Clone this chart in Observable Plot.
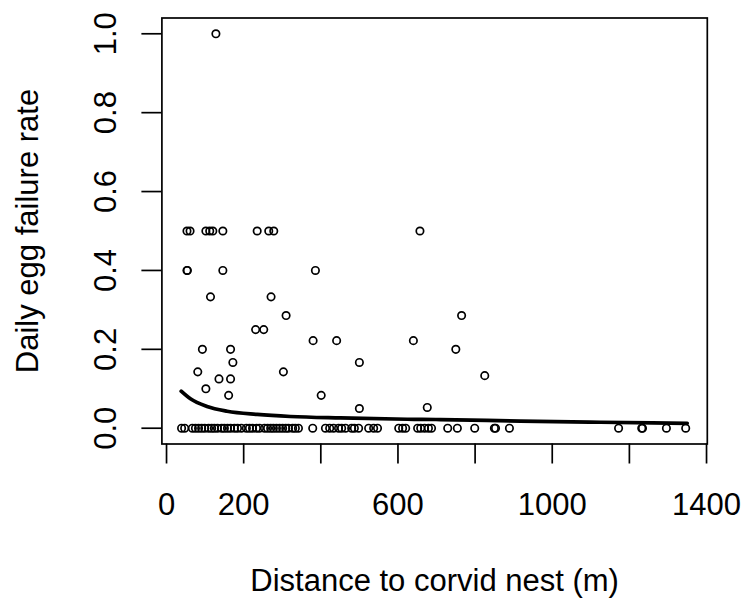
<!DOCTYPE html>
<html><head><meta charset="utf-8">
<script src="https://cdn.jsdelivr.net/npm/d3@7"></script>
<script src="https://cdn.jsdelivr.net/npm/@observablehq/plot@0.6"></script>
<style>body{margin:0;background:#fff;} svg{font-family:"Liberation Sans",Arial,sans-serif;}</style>
</head><body><div id="chart"></div>
<script>
// Observed nests: distance to corvid nest (m) and daily egg failure rate
const distance = [
  128,
  53, 61, 102, 112, 120, 146, 235, 265, 278, 657,
  53, 54, 146, 386,
  114, 271,
  310, 765,
  231, 252,
  380, 441, 640,
  93, 166, 750,
  172, 500,
  81, 303,
  136, 166, 825,
  102,
  161, 401,
  500, 676,
  39, 47, 67, 75, 83, 91, 99, 109, 117, 124, 132, 143, 150, 158, 166, 176, 184, 194,
  207, 215, 223, 233, 241, 254, 262, 270, 277, 285, 293, 301, 309, 316, 327, 334, 342,
  379, 412, 423, 433, 446, 454, 464, 480, 487, 498, 524, 537, 547, 602, 612, 620,
  651, 659, 669, 679, 687, 729, 754, 799, 850, 853, 889, 1172, 1232, 1234, 1296, 1346
];
const rate = [
  1.0,
  0.5, 0.5, 0.5, 0.5, 0.5, 0.5, 0.5, 0.5, 0.5, 0.5,
  0.4, 0.4, 0.4, 0.4,
  0.333, 0.333,
  0.2857, 0.2857,
  0.25, 0.25,
  0.222, 0.222, 0.222,
  0.2, 0.2, 0.2,
  0.1667, 0.1667,
  0.1429, 0.1429,
  0.125, 0.125, 0.1333,
  0.1,
  0.0833, 0.0833,
  0.05, 0.0526,
  0, 0, 0, 0, 0, 0, 0, 0, 0, 0, 0, 0, 0, 0, 0, 0, 0, 0,
  0, 0, 0, 0, 0, 0, 0, 0, 0, 0, 0, 0, 0, 0, 0, 0, 0,
  0, 0, 0, 0, 0, 0, 0, 0, 0, 0, 0, 0, 0, 0, 0, 0,
  0, 0, 0, 0, 0, 0, 0, 0, 0, 0, 0, 0, 0, 0, 0, 0
];
// Fitted curve
const curveDist = [38, 62, 105, 157, 235, 321, 451, 624, 710, 918, 1125, 1350];
const curveRate = [0.094, 0.0745, 0.055, 0.043, 0.035, 0.0297, 0.026, 0.0228, 0.022, 0.018, 0.0152, 0.0125];

const xTicks = [0, 200, 400, 600, 800, 1000, 1200, 1400];
const xTickLabels = ["0", "200", "", "600", "", "1000", "", "1400"];
const yTicks = [0, 0.2, 0.4, 0.6, 0.8, 1.0];
const yTickLabels = ["0.0", "0.2", "0.4", "0.6", "0.8", "1.0"];
const xTitle = "Distance to corvid nest (m)";
const yTitle = "Daily egg failure rate";

const points = distance.map((d, i) => ({distance: d, rate: rate[i]}));
const curve = curveDist.map((d, i) => ({distance: d, rate: curveRate[i]}));
const xLab = new Map(xTicks.map((t, i) => [t, xTickLabels[i]]));
const yLab = new Map(yTicks.map((t, i) => [t, yTickLabels[i]]));

const FS = 31;
const chart = Plot.plot({
  width: 750, height: 600,
  marginLeft: 161.4, marginRight: 43.2, marginTop: 17.5, marginBottom: 156.5,
  style: {fontFamily: "Liberation Sans, Arial, sans-serif", fontSize: FS + "px", background: "#fff", color: "black"},
  x: {domain: [-12, 1402]},
  y: {domain: [-0.04, 1.04]},
  marks: [
    Plot.dot(points, {x: "distance", y: "rate", r: 3.7, stroke: "black", strokeWidth: 1.7, fill: "none"}),
    Plot.line(curve, {x: "distance", y: "rate", stroke: "black", strokeWidth: 3.7, curve: "monotone-x"}),
    Plot.frame({stroke: "black", strokeWidth: 1.7}),
    Plot.axisX(xTicks, {tickSize: 20, tickPadding: 29, strokeWidth: 1.7, tickFormat: d => xLab.get(d), label: null, fontSize: FS}),
    Plot.axisY(yTicks, {tickSize: 20, tickRotate: -90, tickPadding: 25.4, strokeWidth: 1.7, tickFormat: d => yLab.get(d), label: null, fontSize: FS}),
    Plot.text([xTitle], {frameAnchor: "bottom", dy: 146.5, textAnchor: "middle", lineAnchor: "bottom", fontSize: FS, fill: "black"}),
    Plot.text([yTitle], {frameAnchor: "left", dx: -123.4, rotate: -90, textAnchor: "middle", lineAnchor: "bottom", fontSize: FS, fill: "black"})
  ]
});
document.getElementById("chart").appendChild(chart);
</script>
</body></html>
